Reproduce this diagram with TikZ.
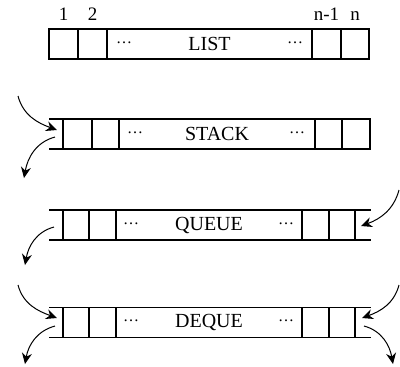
\documentclass[tikz,border=0pt]{standalone}
\usepackage{fontspec}
\setmainfont{Liberation Serif}
\usetikzlibrary{arrows.meta,positioning}
\tikzset{
	every node/.style={
		font=\fontsize{10}{12}\selectfont
	},
	cell/.style={
		shape=rectangle,
		draw,
		line width=0.65pt,
		outer sep=0pt,
		inner sep=0pt,
		minimum height=15pt
	},
	index/.style={
		label distance=0.5pt,
		font=\fontsize{9.5}{11}\selectfont
	},
	gap/.style={
		font=\fontsize{8}{9.6}\selectfont
	},
	rail/.style={
		line width=0.65pt
	},
	flow/.style={
		-{Stealth[length=5.5pt,width=5pt]},
		line width=0.5pt
	}
}
\newcommand{\gapdots}{\raisebox{1.5pt}{\textellipsis}}

\begin{document}
\begin{tikzpicture}[x=0.5pt,y=-0.5pt]
	\useasboundingbox (0,0) rectangle (400,366);
	
	% list
	\node[cell, minimum width=14.5pt, label={[index]above:1}] (l1) at (63.5,44) {};
	\node[cell, minimum width=14.5pt, right=0pt of l1, label={[index]above:2}] (l2) {};
	\node[cell, minimum width=102.5pt, right=0pt of l2] (lm) {LIST};
	\node[cell, minimum width=14.5pt, right=0pt of lm, label={[index]above:n-1}] (l4) {};
	\node[cell, minimum width=14pt, right=0pt of l4, label={[index]above:n}] (l5) {};
	\node[gap] (ld1) at ([xshift=8.5pt]lm.west) {\gapdots};
	\node[gap] (ld2) at ([xshift=-8.5pt]lm.east) {\gapdots};
	
	% stack
	\node[cell, minimum width=14.5pt] (s1) at (77.5,134) {};
	\node[cell, minimum width=13.5pt, right=0pt of s1] (s2) {};
	\node[cell, minimum width=98pt, right=0pt of s2] (sm) {STACK};
	\node[cell, minimum width=13.5pt, right=0pt of sm] (s4) {};
	\node[cell, minimum width=14pt, right=0pt of s4] (s5) {};
	\node[gap] (sd1) at ([xshift=8pt]sm.west) {\gapdots};
	\node[gap] (sd2) at ([xshift=-9pt]sm.east) {\gapdots};
	\draw[rail] (49,119) -- (s5.north east);
	\draw[rail] (49,149) -- (s5.south east);
	
	% queue
	\node[cell, minimum width=13pt] (q1) at (76,225) {};
	\node[cell, minimum width=13.5pt, right=0pt of q1] (q2) {};
	\node[cell, minimum width=93pt, right=0pt of q2] (qm) {QUEUE};
	\node[cell, minimum width=13.5pt, right=0pt of qm] (q4) {};
	\node[cell, minimum width=13pt, right=0pt of q4] (q5) {};
	\node[gap] (qd1) at ([xshift=7.5pt]qm.west) {\gapdots};
	\node[gap] (qd2) at ([xshift=-8pt]qm.east) {\gapdots};
	\draw[rail] (49,210) -- (371,210);
	\draw[rail] (49,240) -- (371,240);
	
	% deque
	\node[cell, minimum width=13pt] (d1) at (76,322.5) {};
	\node[cell, minimum width=13.5pt, right=0pt of d1] (d2) {};
	\node[cell, minimum width=93pt, right=0pt of d2] (dm) {DEQUE};
	\node[cell, minimum width=13.5pt, right=0pt of dm] (d4) {};
	\node[cell, minimum width=13pt, right=0pt of d4] (d5) {};
	\node[gap] (dd1) at ([xshift=7.5pt]dm.west) {\gapdots};
	\node[gap] (dd2) at ([xshift=-8pt]dm.east) {\gapdots};
	\draw[rail] (49,307.5) -- (371,307.5);
	\draw[rail] (49,337.5) -- (371,337.5);
	
	% push / pop ends
	\coordinate (sPush) at (18,96);
	\coordinate (sTop) at (57,130);
	\coordinate (sOut) at (55,137);
	\coordinate (sPop) at (24,178);
	\coordinate (qPush) at (399,190);
	\coordinate (qBack) at (361,226);
	\coordinate (qOut) at (54,227);
	\coordinate (qPop) at (25,265);
	\coordinate (dPushL) at (18,285);
	\coordinate (dFront) at (57,318);
	\coordinate (dOutL) at (55,326);
	\coordinate (dPopL) at (25,364);
	\coordinate (dPushR) at (399,285);
	\coordinate (dBack) at (362,318);
	\coordinate (dOutR) at (364,326);
	\coordinate (dPopR) at (393,364);
	
	\draw[flow] (sPush) to[out=-75,in=160] (sTop);
	\draw[flow] (sOut) to[out=195,in=80] (sPop);
	\draw[flow] (qPush) to[out=-105,in=20] (qBack);
	\draw[flow] (qOut) to[out=195,in=80] (qPop);
	\draw[flow] (dPushL) to[out=-75,in=160] (dFront);
	\draw[flow] (dOutL) to[out=195,in=80] (dPopL);
	\draw[flow] (dPushR) to[out=-105,in=20] (dBack);
	\draw[flow] (dOutR) to[out=-15,in=100] (dPopR);
\end{tikzpicture}
\end{document}
